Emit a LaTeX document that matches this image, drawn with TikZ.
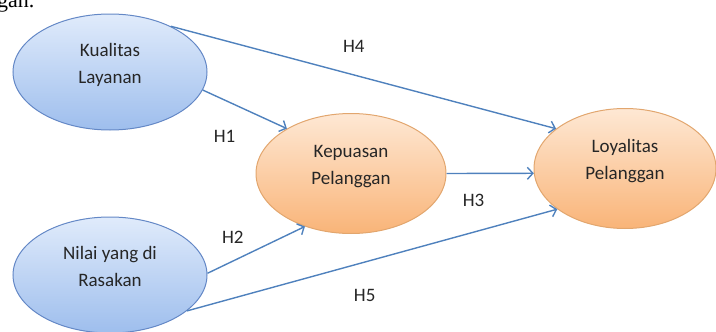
\documentclass[tikz,border=0pt]{standalone}
\usepackage{fontspec}
\setmainfont{Carlito}
\newfontfamily\fragfont{Liberation Serif}
\definecolor{linkblue}{RGB}{79,129,189}
\definecolor{bluetop}{RGB}{224,235,251}
\definecolor{bluebot}{RGB}{158,190,237}
\definecolor{blueline}{RGB}{100,136,198}
\definecolor{orangetop}{RGB}{254,232,212}
\definecolor{orangebot}{RGB}{249,180,120}
\definecolor{orangeline}{RGB}{226,166,110}
\newcommand{\varfont}{\fontsize{19}{27}\selectfont\color{black!85}}
\usetikzlibrary{arrows.meta,shapes.geometric,positioning,calc}
\tikzset{
	varblue/.style={
		ellipse,
		draw=blueline,
		line width=1pt,
		top color=bluetop,
		bottom color=bluebot,
		minimum width=194pt,
		minimum height=116pt,
		inner sep=0pt,
		text depth=18pt,
		font=\varfont,
	},
	varorange/.style={
		varblue,
		draw=orangeline,
		top color=orangetop,
		bottom color=orangebot,
		minimum width=190pt,
		minimum height=120pt,
	},
	link/.style={
		-{Straight Barb[length=5.5pt,width=12pt,line width=1.4pt]},
		line width=1.4pt,
		draw=linkblue,
	},
	hyp/.style={
		font=\varfont,
		inner sep=1pt,
	},
}

\begin{document}
\begin{tikzpicture}[x=1pt,y=1pt,align=center,node distance=86pt]
	\useasboundingbox (0,0) rectangle (716,-332);
	\node[font=\fontsize{22}{26}\selectfont\fragfont,anchor=base east] (frag) at (38,-8) {gan.};

	\node[varblue] (kual) at (110,-72) {Kualitas\\Layanan};
	\node[varblue,below=of kual] (nilai) {Nilai yang di\\Rasakan};
	\coordinate (mid) at ($(kual.east)!.5!(nilai.east)$);
	\node[varorange,right=48pt of mid] (kep) {Kepuasan\\Pelanggan};
	\node[varorange,minimum width=182pt,right=87pt of kep,yshift=5pt] (loy) {Loyalitas\\Pelanggan};

	\draw[link] (kual.37) -- node[hyp,pos=.475,yshift=29pt] (h4) {H4} (loy.150);
	\draw[link] (kual.-11) -- node[hyp,pos=.26,yshift=-36pt] (h1) {H1} (kep.145);
	\draw[link] (nilai.1) -- node[hyp,pos=.26,yshift=24pt] (h2) {H2} (kep.229);
	\draw[link] (kep.east) -- node[hyp,pos=.31,yshift=-27pt] (h3) {H3} (loy.183);
	\draw[link] (nilai.-25) -- node[hyp,pos=.48,yshift=-33pt] (h5) {H5} (loy.211);
\end{tikzpicture}
\end{document}
